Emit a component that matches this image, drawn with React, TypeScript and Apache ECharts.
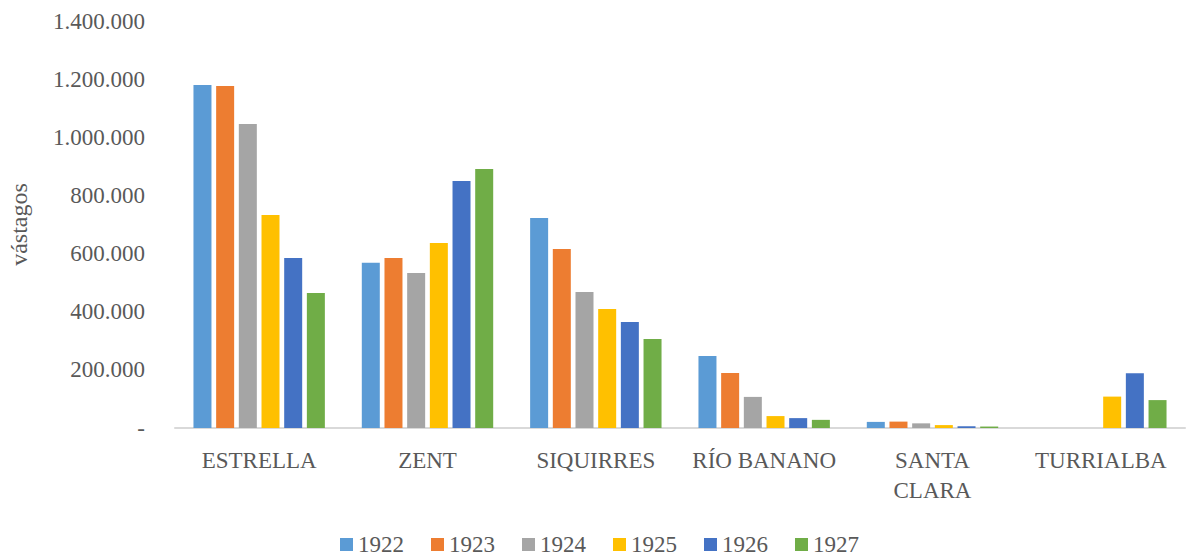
import React, { useEffect, useRef } from "react";
import * as echarts from "echarts";

const categories = ["ESTRELLA", "ZENT", "SIQUIRRES", "RÍO BANANO", "SANTA CLARA", "TURRIALBA"];
const years = ["1922", "1923", "1924", "1925", "1926", "1927"];
const s1922 = [1180000, 568000, 722000, 248000, 21000, null];
const s1923 = [1176000, 585000, 616000, 189000, 22000, null];
const s1924 = [1046000, 533000, 468000, 107000, 16000, null];
const s1925 = [733000, 636000, 409000, 41000, 10000, 108000];
const s1926 = [585000, 850000, 365000, 34000, 6000, 188000];
const s1927 = [464000, 891000, 306000, 28000, 5000, 96000];
const seriesValues = [s1922, s1923, s1924, s1925, s1926, s1927];
const colors = ["#5B9BD5", "#ED7D31", "#A5A5A5", "#FFC000", "#4472C4", "#70AD47"];

const FONT = "'Liberation Serif', serif";
const TXT = "#595959";

function fmt(v: number): string {
  if (v === 0) return "-";
  return String(v).replace(/\B(?=(\d{3})+(?!\d))/g, ".");
}

export default function App() {
  const ref = useRef<HTMLDivElement>(null);
  useEffect(() => {
    if (!ref.current) return;
    const chart = echarts.init(ref.current, null, { renderer: "svg" });
    chart.setOption({
      animation: false,
      textStyle: { fontFamily: FONT },
      grid: { left: 175, right: 2, top: 21, bottom: 128, outerBoundsMode: "none", containLabel: false },
      legend: {
        top: 528,
        left: 335,
        itemWidth: 13,
        itemHeight: 13,
        itemGap: 27,
        icon: "rect",
        textStyle: { fontFamily: FONT, fontSize: 23, color: TXT },
        data: years,
      },
      xAxis: {
        type: "category",
        data: categories,
        axisLine: { lineStyle: { color: "#D9D9D9", width: 2 } },
        axisTick: { show: false },
        axisLabel: {
          color: TXT,
          fontFamily: FONT,
          fontSize: 23,
          margin: 17,
          lineHeight: 30,
          interval: 0,
          formatter: (v: string) => (v === "SANTA CLARA" ? "SANTA\nCLARA" : v),
        },
      },
      yAxis: {
        type: "value",
        min: 0,
        max: 1400000,
        interval: 200000,
        name: "vástagos",
        nameLocation: "middle",
        nameGap: 144,
        nameRotate: 90,
        nameTextStyle: { color: TXT, fontFamily: FONT, fontSize: 24 },
        splitLine: { show: false },
        axisLine: { show: false },
        axisTick: { show: false },
        axisLabel: {
          color: TXT,
          fontFamily: FONT,
          fontSize: 23,
          margin: 30,
          formatter: (v: number) => fmt(v),
        },
      },
      series: years.map((y, i) => ({
        name: y,
        type: "bar",
        data: seriesValues[i],
        barWidth: 18,
        barGap: "26%",
        itemStyle: { color: colors[i] },
      })),
    });
    return () => chart.dispose();
  }, []);
  return (
    <div
      ref={ref}
      style={{ position: "fixed", left: 0, top: 0, width: 1187, height: 556, background: "#fff" }}
    />
  );
}
